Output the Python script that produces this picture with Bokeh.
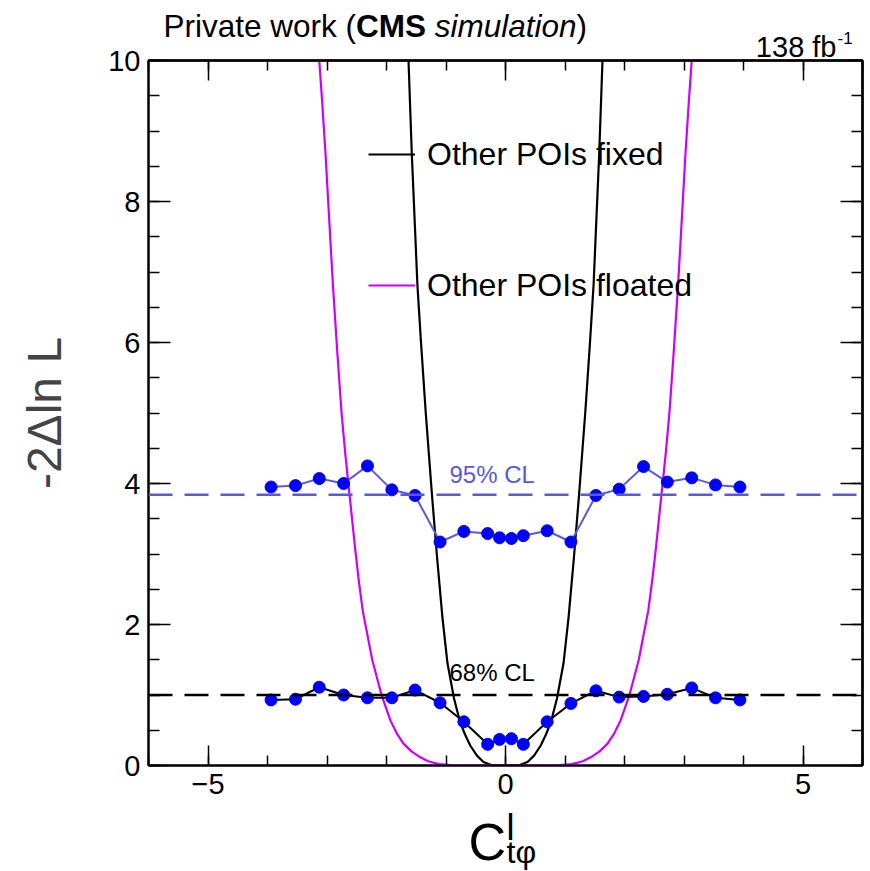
from bokeh.plotting import figure
from bokeh.layouts import column
from bokeh.models import (Range1d, FixedTicker, LinearAxis, Span, Label, Legend, LegendItem)
from bokeh.embed import file_html
from bokeh.resources import INLINE

# ---- data ----
scan_x = [-3.94, -3.53, -3.13, -2.72, -2.32, -1.91, -1.52, -1.10, -0.70, -0.30, -0.10,
          0.10, 0.30, 0.70, 1.10, 1.52, 1.91, 2.32, 2.72, 3.13, 3.53, 3.94]
upper_y = [3.95, 3.97, 4.07, 4.00, 4.25, 3.91, 3.83, 3.17, 3.32, 3.29, 3.23,
           3.22, 3.26, 3.33, 3.17, 3.83, 3.92, 4.24, 4.02, 4.08, 3.98, 3.95]
lower_y = [0.93, 0.94, 1.11, 1.00, 0.96, 0.96, 1.07, 0.89, 0.62, 0.30, 0.37,
           0.38, 0.30, 0.62, 0.88, 1.06, 0.97, 0.98, 1.01, 1.10, 0.96, 0.93]

# "Other POIs fixed" curve (read along its right branch; it is symmetric)
fixed_abs_x = [0.0, 0.25, 0.37, 0.48, 0.59, 0.68, 0.765, 0.865, 0.975, 1.06, 1.15, 1.235, 1.34, 1.42, 1.48, 1.575, 1.63]
fixed_y_half = [0.0, 0.01, 0.05, 0.14, 0.28, 0.44, 0.62, 0.95, 1.45, 2.1, 2.95, 3.83, 5.0, 6.0, 6.81, 8.68, 10.0]
# "Other POIs floated" curve
float_abs_x = [0.0, 0.8, 1.12, 1.3, 1.44, 1.58, 1.715, 1.83, 1.935, 2.08, 2.24, 2.40, 2.47, 2.53, 2.62, 2.69, 2.755, 2.83, 2.90, 2.96, 3.025, 3.08, 3.13]
float_y_half = [0.0, 0.0, 0.02, 0.06, 0.12, 0.2, 0.31, 0.46, 0.64, 0.99, 1.5, 2.2, 2.65, 3.1, 3.83, 4.4, 5.0, 5.9, 6.81, 7.7, 8.68, 9.4, 10.0]

cl95 = 3.84
cl68 = 1.0
x_major = [-5, 0, 5]
x_minor = [-6, -5, -4, -3, -2, -1, 0, 1, 2, 3, 4, 5, 6]
y_major = [0, 2, 4, 6, 8, 10]
y_minor = [0, 0.5, 1, 1.5, 2, 2.5, 3, 3.5, 4, 4.5, 5, 5.5, 6, 6.5, 7, 7.5, 8, 8.5, 9, 9.5, 10]

fixed_x = [-v for v in fixed_abs_x[:0:-1]] + fixed_abs_x
fixed_y = fixed_y_half[:0:-1] + fixed_y_half
floated_x = [-v for v in float_abs_x[:0:-1]] + float_abs_x
floated_y = float_y_half[:0:-1] + float_y_half

FONT = "Liberation Sans"
SLATE = "#5a5ad8"
MAG = "#cc00ff"

W = 870
PAGE_H = 871
TOP_H = 64          # header strip height
OVERLAP = 22        # main figure slides up under the header by this much
BOT_H = 80          # footer strip height
BOT_OVERLAP = 20    # footer strip slides up over the main figure's bottom border
MAIN_TOP = TOP_H - OVERLAP                          # page y of main figure top (42)
MAIN_H = PAGE_H - (BOT_H - BOT_OVERLAP) - MAIN_TOP  # main figure height
FRAME_TOP, FRAME_BOTTOM, FRAME_LEFT = 60, 765, 148

p = figure(width=W, height=MAIN_H, output_backend="svg", toolbar_location=None,
           x_range=Range1d(-6, 6), y_range=Range1d(0, 10),
           min_border_left=FRAME_LEFT, min_border_right=8,
           min_border_top=FRAME_TOP - MAIN_TOP,
           min_border_bottom=MAIN_TOP + MAIN_H - FRAME_BOTTOM)
p.margin = (-OVERLAP, 0, 0, 0)
p.background_fill_color = "white"
p.border_fill_alpha = 0
p.outline_line_color = "black"
p.outline_line_width = 2
p.xgrid.visible = False
p.ygrid.visible = False

def style_axis(ax, ticks, minor, major_len, minor_len):
    ax.ticker = FixedTicker(ticks=ticks, minor_ticks=minor)
    ax.axis_line_color = "black"
    ax.axis_line_width = 2
    ax.major_tick_in = major_len
    ax.major_tick_out = 0
    ax.minor_tick_in = minor_len
    ax.minor_tick_out = 0
    ax.major_tick_line_width = 1.5
    ax.minor_tick_line_width = 1.5
    ax.major_tick_line_color = "black"
    ax.minor_tick_line_color = "black"
    ax.major_label_text_font = FONT
    ax.major_label_text_font_size = "29px"
    ax.major_label_text_color = "black"

xa = p.xaxis[0]
style_axis(xa, x_major, x_minor, 20, 10)
xa.major_label_overrides = {-5: "\u22125", 0: "0", 5: "5"}
xa.major_label_standoff = 8

ya = p.yaxis[0]
style_axis(ya, y_major, y_minor, 22, 11)
ya.major_label_standoff = 8
ya.axis_label = "-2\u0394ln L"
ya.axis_label_text_font = FONT
ya.axis_label_text_font_size = "48px"
ya.axis_label_text_font_style = "normal"
ya.axis_label_standoff = 34

# mirrored tick marks on the right and top (label-free axes: ticks only)
def tick_only_axis(tick_positions, length):
    ax = LinearAxis(ticker=FixedTicker(ticks=[], minor_ticks=tick_positions))
    ax.axis_line_color = "black"
    ax.axis_line_width = 2
    ax.major_tick_in = 0
    ax.major_tick_out = 0
    ax.minor_tick_in = length
    ax.minor_tick_out = 0
    ax.minor_tick_line_width = 1.5
    ax.minor_tick_line_color = "black"
    ax.major_label_standoff = 0
    ax.axis_label_standoff = 0
    return ax

p.add_layout(tick_only_axis(y_minor, 11), "right")
p.add_layout(tick_only_axis(y_major, 22), "right")
p.add_layout(tick_only_axis(x_minor, 10), "above")
p.add_layout(tick_only_axis(x_major, 20), "above")

# CL lines
p.add_layout(Span(location=cl95, dimension="width", line_color=SLATE, line_width=2.5, line_dash="24 12"))
p.add_layout(Span(location=cl68, dimension="width", line_color="black", line_width=2.5, line_dash="24 12"))

# curves
r_fixed = p.line(fixed_x, fixed_y, line_color="black", line_width=2.2, line_join="round")
r_float = p.line(floated_x, floated_y, line_color=MAG, line_width=2.2, line_join="round")

# scan points
p.line(scan_x, upper_y, line_color=SLATE, line_width=2)
p.line(scan_x, lower_y, line_color="black", line_width=2)
p.scatter(scan_x, upper_y, size=12, fill_color="#0000ff", line_color="#0000ff")
p.scatter(scan_x, lower_y, size=12, fill_color="#0000ff", line_color="#0000ff")

legend = Legend(items=[LegendItem(label="Other POIs fixed", renderers=[r_fixed]),
                       LegendItem(label="Other POIs floated", renderers=[r_float])],
                location=(220, 460), orientation="vertical",
                glyph_width=47, glyph_height=40, label_height=40, label_standoff=12,
                spacing=91, padding=0, margin=0,
                border_line_color=None, background_fill_alpha=0,
                label_text_font=FONT, label_text_font_size="32px")
legend.label_text_color = "black"
p.add_layout(legend)

def lab(fig, text, x_px, base_px, fig_bottom_px, size, color="black", style="normal", align="left"):
    # x_px, base_px: page position of the text start / baseline; frames share left edge FRAME_LEFT
    shift = 0.37 * size
    fig.add_layout(Label(x=x_px - FRAME_LEFT, y=fig_bottom_px - base_px + shift,
                         x_units="screen", y_units="screen", text=text,
                         text_font=FONT, text_font_size=f"{size}px", text_color=color,
                         text_font_style=style, text_align=align, text_baseline="alphabetic"))

lab(p, "95% CL", 449, 483, FRAME_BOTTOM, 24, color=SLATE)
lab(p, "68% CL", 449, 681, FRAME_BOTTOM, 24)

def strip(h, transparent=False):
    f = figure(width=W, height=h, output_backend="svg", toolbar_location=None,
               x_range=Range1d(0, 1), y_range=Range1d(0, 1),
               x_axis_type=None, y_axis_type=None, min_border=0)
    f.outline_line_color = None
    f.xgrid.visible = False
    f.ygrid.visible = False
    if transparent:
        f.border_fill_alpha = 0
        f.background_fill_alpha = 0
    return f

# header strip (title + luminosity)
top = strip(TOP_H)
TS = 31.5
x0 = 163
lab(top, "Private work (", x0, 37, TOP_H, TS)
x1 = x0 + 6.112 * TS
lab(top, "CMS", x1, 37, TOP_H, TS, style="bold")
x2 = x1 + 2.222 * TS + 0.278 * TS
lab(top, "simulation", x2, 37, TOP_H, TS, style="italic")
x3 = x2 + 4.501 * TS
lab(top, ")", x3, 37, TOP_H, TS)
lab(top, "138 fb", 836, 57, TOP_H, 29, align="right")
lab(top, "-1", 837, 44, TOP_H, 17)

# footer strip (x-axis title C^l_{t phi}); transparent, overlaps the main figure's bottom border
bot = strip(BOT_H, transparent=True)
bot.margin = (-BOT_OVERLAP, 0, 0, 0)
lab(bot, "C", 468, 861, PAGE_H, 52)
lab(bot, "l", 506, 840, PAGE_H, 36)
lab(bot, "t\u03c6", 506, 863, PAGE_H, 32)

layout = column(top, p, bot, spacing=0)
open("out.html", "w").write(file_html(layout, INLINE))
